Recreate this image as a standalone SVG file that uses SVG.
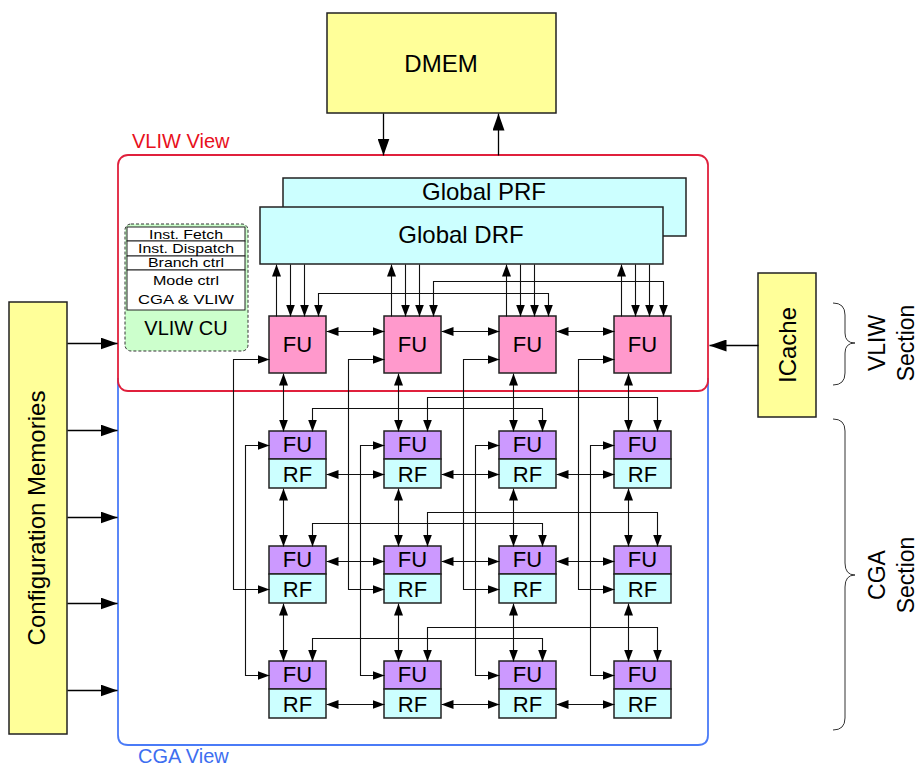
<svg xmlns="http://www.w3.org/2000/svg" width="920" height="767" viewBox="0 0 920 767">
<style>
  text { font-family: "Liberation Sans", Arial, sans-serif; fill: #000; }
  .big { font-size: 24px; }
  .unit { font-size: 22px; }
  .sect { font-size: 23px; }
  .small { font-size: 13px; }
  .mid { font-size: 20px; }
  .c { text-anchor: middle; }
  .yel { fill: #ffff99; stroke: #222; stroke-width: 1.5; }
  .cyan { fill: #ccffff; stroke: #222; stroke-width: 1.5; }
  .pink { fill: #ff99cc; stroke: #222; stroke-width: 1.5; }
  .purp { fill: #cc99ff; stroke: #222; stroke-width: 1.5; }
  .wbox { fill: #fff; stroke: #222; stroke-width: 1; }
  .ln { fill: none; stroke: #111; stroke-width: 1.1; }
  .one { marker-end: url(#a); }
  .two { marker-start: url(#a); marker-end: url(#a); }
  .bigone { fill: none; stroke: #000; stroke-width: 1.3; marker-end: url(#A); }
  .brace { fill: none; stroke: #333; stroke-width: 1; }
</style>
<defs>
  <marker id="a" viewBox="0 0 12 9" refX="12" refY="4.5" markerWidth="12" markerHeight="9" markerUnits="userSpaceOnUse" orient="auto-start-reverse">
    <path d="M0,0L12,4.5L0,9z" fill="#000"/>
  </marker>
  <marker id="A" viewBox="0 0 17 12" refX="17" refY="6" markerWidth="17" markerHeight="12" markerUnits="userSpaceOnUse" orient="auto-start-reverse">
    <path d="M0,0L17,6L0,12z" fill="#000"/>
  </marker>
</defs>
<rect width="920" height="767" fill="#fff"/>

<!-- view frames -->
<g id="cga-view">
  <path d="M118,378 V735 Q118,745 128,745 H698 Q708,745 708,735 V378" fill="none" stroke="#4a7bf7" stroke-width="1.8"/>
  <text x="138" y="763" class="mid" style="fill:#3d6ef0">CGA View</text>
</g>
<g id="vliw-view">
  <rect x="118" y="155" width="590" height="236" rx="10" fill="none" stroke="#e0203c" stroke-width="1.8"/>
  <text x="132" y="148" class="mid" style="fill:#e8101c">VLIW View</text>
</g>

<!-- memories -->
<g id="dmem">
  <rect x="327" y="13" width="229" height="100" class="yel"/>
  <text x="441" y="72" class="big c">DMEM</text>
</g>
<g id="config-mem">
  <rect x="9" y="302" width="58" height="432" class="yel"/>
  <text transform="translate(45,518) rotate(-90)" class="big c">Configuration Memories</text>
</g>
<g id="icache">
  <rect x="758" y="273" width="58" height="144" class="yel"/>
  <text transform="translate(796,345) rotate(-90)" class="big c">ICache</text>
</g>

<!-- register files -->
<g id="global-prf">
  <rect x="283" y="178" width="403" height="58" class="cyan"/>
  <text x="484" y="200" class="big c">Global PRF</text>
</g>
<g id="global-drf">
  <rect x="260" y="207" width="403" height="57" class="cyan"/>
  <text x="461" y="243" class="big c">Global DRF</text>
</g>

<!-- VLIW control unit -->
<g id="vliw-cu">
  <rect x="125" y="224" width="123" height="127" rx="6" fill="#ccffcc" stroke="#333" stroke-width="1" stroke-dasharray="3,2"/>
  <rect x="127" y="227" width="118" height="14" class="wbox"/>
  <rect x="127" y="241" width="118" height="15" class="wbox"/>
  <rect x="127" y="256" width="118" height="14" class="wbox"/>
  <rect x="127" y="270" width="118" height="40" class="wbox"/>
  <text x="186" y="238.5" class="small c" textLength="74" lengthAdjust="spacingAndGlyphs">Inst. Fetch</text>
  <text x="186" y="252.5" class="small c" textLength="96" lengthAdjust="spacingAndGlyphs">Inst. Dispatch</text>
  <text x="186" y="266.5" class="small c" textLength="76" lengthAdjust="spacingAndGlyphs">Branch ctrl</text>
  <text x="186" y="285" class="small c" textLength="66" lengthAdjust="spacingAndGlyphs">Mode ctrl</text>
  <text x="186" y="304" class="small c" textLength="96" lengthAdjust="spacingAndGlyphs">CGA &amp; VLIW</text>
  <text x="186" y="335" class="mid c">VLIW CU</text>
</g>

<!-- VLIW functional units -->
<g id="vfu1"><rect x="269" y="316" width="57" height="57" class="pink"/><text x="297.5" y="352" class="unit c">FU</text></g>
<g id="vfu2"><rect x="384" y="316" width="57" height="57" class="pink"/><text x="412.5" y="352" class="unit c">FU</text></g>
<g id="vfu3"><rect x="499" y="316" width="57" height="57" class="pink"/><text x="527.5" y="352" class="unit c">FU</text></g>
<g id="vfu4"><rect x="614" y="316" width="57" height="57" class="pink"/><text x="642.5" y="352" class="unit c">FU</text></g>

<!-- CGA cells: row 1 -->
<g id="c11"><rect x="269" y="431" width="57" height="28" class="purp"/><rect x="269" y="459" width="57" height="29" class="cyan"/><text x="297.5" y="452" class="unit c">FU</text><text x="297.5" y="482" class="unit c">RF</text></g>
<g id="c12"><rect x="384" y="431" width="57" height="28" class="purp"/><rect x="384" y="459" width="57" height="29" class="cyan"/><text x="412.5" y="452" class="unit c">FU</text><text x="412.5" y="482" class="unit c">RF</text></g>
<g id="c13"><rect x="499" y="431" width="57" height="28" class="purp"/><rect x="499" y="459" width="57" height="29" class="cyan"/><text x="527.5" y="452" class="unit c">FU</text><text x="527.5" y="482" class="unit c">RF</text></g>
<g id="c14"><rect x="614" y="431" width="57" height="28" class="purp"/><rect x="614" y="459" width="57" height="29" class="cyan"/><text x="642.5" y="452" class="unit c">FU</text><text x="642.5" y="482" class="unit c">RF</text></g>
<!-- row 2 -->
<g id="c21"><rect x="269" y="546" width="57" height="28" class="purp"/><rect x="269" y="574" width="57" height="29" class="cyan"/><text x="297.5" y="567" class="unit c">FU</text><text x="297.5" y="597" class="unit c">RF</text></g>
<g id="c22"><rect x="384" y="546" width="57" height="28" class="purp"/><rect x="384" y="574" width="57" height="29" class="cyan"/><text x="412.5" y="567" class="unit c">FU</text><text x="412.5" y="597" class="unit c">RF</text></g>
<g id="c23"><rect x="499" y="546" width="57" height="28" class="purp"/><rect x="499" y="574" width="57" height="29" class="cyan"/><text x="527.5" y="567" class="unit c">FU</text><text x="527.5" y="597" class="unit c">RF</text></g>
<g id="c24"><rect x="614" y="546" width="57" height="28" class="purp"/><rect x="614" y="574" width="57" height="29" class="cyan"/><text x="642.5" y="567" class="unit c">FU</text><text x="642.5" y="597" class="unit c">RF</text></g>
<!-- row 3 -->
<g id="c31"><rect x="269" y="661" width="57" height="28" class="purp"/><rect x="269" y="689" width="57" height="29" class="cyan"/><text x="297.5" y="682" class="unit c">FU</text><text x="297.5" y="712" class="unit c">RF</text></g>
<g id="c32"><rect x="384" y="661" width="57" height="28" class="purp"/><rect x="384" y="689" width="57" height="29" class="cyan"/><text x="412.5" y="682" class="unit c">FU</text><text x="412.5" y="712" class="unit c">RF</text></g>
<g id="c33"><rect x="499" y="661" width="57" height="28" class="purp"/><rect x="499" y="689" width="57" height="29" class="cyan"/><text x="527.5" y="682" class="unit c">FU</text><text x="527.5" y="712" class="unit c">RF</text></g>
<g id="c34"><rect x="614" y="661" width="57" height="28" class="purp"/><rect x="614" y="689" width="57" height="29" class="cyan"/><text x="642.5" y="682" class="unit c">FU</text><text x="642.5" y="712" class="unit c">RF</text></g>

<!-- section braces and labels -->
<g id="vliw-section">
  <path class="brace" d="M833,303 Q845,303 845,315 V333 Q845,343 855,343 Q845,343 845,353 V373 Q845,385 833,385"/>
  <text transform="translate(885,343) rotate(-90)" class="sect c">VLIW</text>
  <text transform="translate(914,343) rotate(-90)" class="sect c">Section</text>
</g>
<g id="cga-section">
  <path class="brace" d="M833,419 Q845,419 845,431 V563 Q845,575 855,575 Q845,575 845,587 V718 Q845,730 833,730"/>
  <text transform="translate(885,575) rotate(-90)" class="sect c">CGA</text>
  <text transform="translate(914,575) rotate(-90)" class="sect c">Section</text>
</g>

<!-- connectors -->
<g id="connectors" transform="translate(0.5,0.5)">
  <!-- memory links -->
  <path class="bigone" d="M383,113 V155"/>
  <path class="bigone" d="M498,155 V113"/>
  <path class="bigone" d="M758,345 H709"/>
  <path class="bigone" d="M67,343 H117"/>
  <path class="bigone" d="M67,430 H117"/>
  <path class="bigone" d="M67,517 H117"/>
  <path class="bigone" d="M67,603 H117"/>
  <path class="bigone" d="M67,690 H117"/>

  <!-- global DRF to VLIW FUs -->
  <path class="ln one" d="M276,316 V264"/>
  <path class="ln one" d="M290,264 V316"/>
  <path class="ln one" d="M304,264 V316"/>
  <path class="ln one" d="M391,316 V264"/>
  <path class="ln one" d="M405,264 V316"/>
  <path class="ln one" d="M419,264 V316"/>
  <path class="ln one" d="M506,316 V264"/>
  <path class="ln one" d="M520,264 V316"/>
  <path class="ln one" d="M534,264 V316"/>
  <path class="ln one" d="M621,316 V264"/>
  <path class="ln one" d="M635,264 V316"/>
  <path class="ln one" d="M649,264 V316"/>
  <path class="ln two" d="M318,316 V293 H548 V316"/>
  <path class="ln two" d="M433,316 V281 H663 V316"/>
  <!-- VLIW FU neighbours -->
  <path class="ln two" d="M326,331 H384"/>
  <path class="ln two" d="M441,331 H499"/>
  <path class="ln two" d="M556,331 H614"/>

  <!-- vertical links between rows -->
  <path class="ln two" d="M283,373 V431"/>
  <path class="ln two" d="M398,373 V431"/>
  <path class="ln two" d="M513,373 V431"/>
  <path class="ln two" d="M628,373 V431"/>
  <path class="ln two" d="M283,488 V546"/>
  <path class="ln two" d="M398,488 V546"/>
  <path class="ln two" d="M513,488 V546"/>
  <path class="ln two" d="M628,488 V546"/>
  <path class="ln two" d="M283,603 V661"/>
  <path class="ln two" d="M398,603 V661"/>
  <path class="ln two" d="M513,603 V661"/>
  <path class="ln two" d="M628,603 V661"/>

  <!-- skip-one links inside each row -->
  <path class="ln two" d="M312,431 V408 H542 V431"/>
  <path class="ln two" d="M427,431 V397 H657 V431"/>
  <path class="ln two" d="M312,546 V523 H542 V546"/>
  <path class="ln two" d="M427,546 V512 H657 V546"/>
  <path class="ln two" d="M312,661 V638 H542 V661"/>
  <path class="ln two" d="M427,661 V627 H657 V661"/>

  <!-- horizontal neighbours -->
  <path class="ln two" d="M326,474 H384"/>
  <path class="ln two" d="M441,474 H499"/>
  <path class="ln two" d="M556,474 H614"/>
  <path class="ln two" d="M326,561 H384"/>
  <path class="ln two" d="M441,561 H499"/>
  <path class="ln two" d="M556,561 H614"/>
  <path class="ln two" d="M326,704 H384"/>
  <path class="ln two" d="M441,704 H499"/>
  <path class="ln two" d="M556,704 H614"/>

  <!-- column buses -->
  <path class="ln two" d="M269,359 H233 V589 H269"/>
  <path class="ln two" d="M384,359 H348 V589 H384"/>
  <path class="ln two" d="M499,359 H463 V589 H499"/>
  <path class="ln two" d="M614,359 H578 V589 H614"/>
  <path class="ln two" d="M269,445 H245 V675 H269"/>
  <path class="ln two" d="M384,445 H360 V675 H384"/>
  <path class="ln two" d="M499,445 H475 V675 H499"/>
  <path class="ln two" d="M614,445 H590 V675 H614"/>
</g>
</svg>
